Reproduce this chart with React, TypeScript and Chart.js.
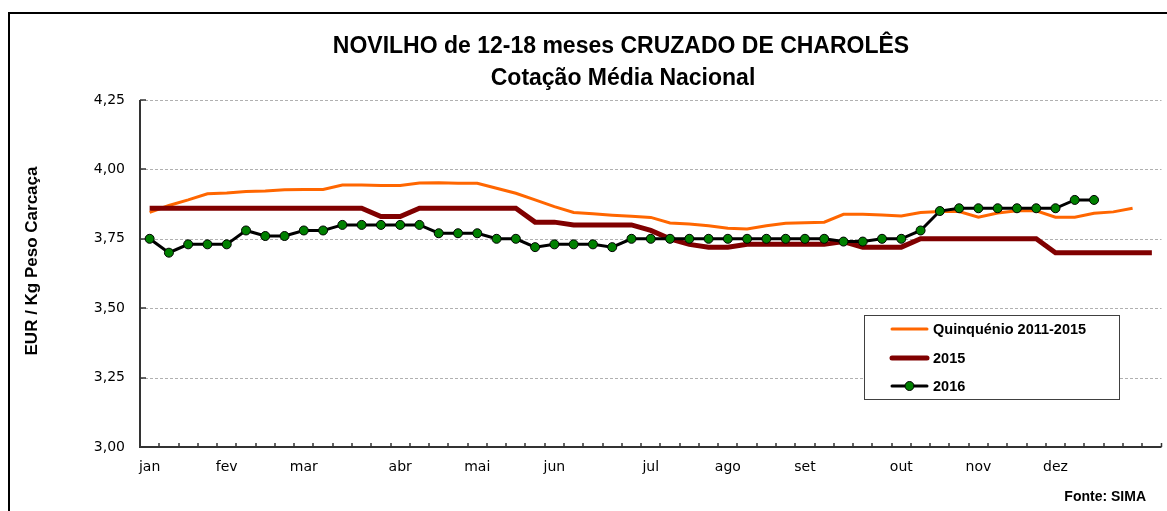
import React, { useEffect, useRef } from "react";
import { Chart, registerables } from "chart.js";

Chart.register(...registerables);

// ---- Data (weekly values, 53 weeks) ----
const MONTHS: string[] = ["jan", "fev", "mar", "abr", "mai", "jun", "jul", "ago", "set", "out", "nov", "dez"];
const MONTH_WEEK: number[] = [0, 4, 8, 13, 17, 21, 26, 30, 34, 39, 43, 47];
const WEEK_COUNT = 53;

const QUINQUENIO: number[] = [
  3.845, 3.87, 3.89, 3.912, 3.915, 3.92, 3.922, 3.927, 3.928, 3.928,
  3.944, 3.944, 3.942, 3.942, 3.951, 3.952, 3.95, 3.95, 3.932, 3.914,
  3.89, 3.866, 3.845, 3.84, 3.835, 3.831, 3.827, 3.807, 3.803, 3.797,
  3.788, 3.785, 3.797, 3.806, 3.808, 3.81, 3.838, 3.838, 3.836, 3.832,
  3.845, 3.848, 3.848, 3.828, 3.843, 3.851, 3.851, 3.828, 3.828, 3.842,
  3.847, 3.86,
];

const Y2015: number[] = [
  3.86, 3.86, 3.86, 3.86, 3.86, 3.86, 3.86, 3.86, 3.86, 3.86,
  3.86, 3.86, 3.83, 3.83, 3.86, 3.86, 3.86, 3.86, 3.86, 3.86,
  3.81, 3.81, 3.80, 3.80, 3.80, 3.80, 3.78, 3.75, 3.73, 3.72,
  3.72, 3.73, 3.73, 3.73, 3.73, 3.73, 3.74, 3.72, 3.72, 3.72,
  3.75, 3.75, 3.75, 3.75, 3.75, 3.75, 3.75, 3.70, 3.70, 3.70,
  3.70, 3.70, 3.70,
];

const Y2016: number[] = [
  3.75, 3.70, 3.73, 3.73, 3.73, 3.78, 3.76, 3.76, 3.78, 3.78,
  3.80, 3.80, 3.80, 3.80, 3.80, 3.77, 3.77, 3.77, 3.75, 3.75,
  3.72, 3.73, 3.73, 3.73, 3.72, 3.75, 3.75, 3.75, 3.75, 3.75,
  3.75, 3.75, 3.75, 3.75, 3.75, 3.75, 3.74, 3.74, 3.75, 3.75,
  3.78, 3.85, 3.86, 3.86, 3.86, 3.86, 3.86, 3.86, 3.89, 3.89,
];

const Y_MIN = 3.0;
const Y_MAX = 4.25;
const Y_STEP = 0.25;

const SERIES_NAMES: string[] = ["Quinquénio 2011-2015", "2015", "2016"];
const TITLE_LINES: string[] = ["NOVILHO de 12-18 meses CRUZADO DE CHAROLÊS", "Cotação Média Nacional"];
const Y_TITLE = "EUR / Kg Peso Carcaça";
const SOURCE = "Fonte: SIMA";

const COLORS = { quin: "#FF6600", y2015: "#800000", y2016: "#000000", marker: "#008000" };

const WEEK_LABELS: string[] = Array.from({ length: WEEK_COUNT }, (_, i) => {
  const k = MONTH_WEEK.indexOf(i);
  return k >= 0 ? MONTHS[k] : "";
});

const decor = {
  id: "decor",
  beforeDraw(chart: any) {
    const ctx = chart.ctx as CanvasRenderingContext2D;
    ctx.save();
    ctx.fillStyle = "#ffffff";
    ctx.fillRect(0, 0, chart.width, chart.height);
    // outer frame
    ctx.strokeStyle = "#000000";
    ctx.lineWidth = 2;
    ctx.strokeRect(9, 13, 1400, 700);
    // title
    ctx.fillStyle = "#000000";
    ctx.textAlign = "center";
    ctx.textBaseline = "alphabetic";
    ctx.font = "bold 23px 'Liberation Sans', Arial, sans-serif";
    ctx.fillText(TITLE_LINES[0], 621, 53);
    ctx.fillText(TITLE_LINES[1], 623, 85);
    // dashed grid lines
    const { left, right } = chart.chartArea;
    const ys = chart.scales.y;
    ctx.setLineDash([3, 2]);
    ctx.strokeStyle = "#b0b0b0";
    ctx.lineWidth = 1;
    for (let v = Y_MIN + Y_STEP; v <= Y_MAX + 1e-9; v += Y_STEP) {
      const py = Math.round(ys.getPixelForValue(v)) + 0.5;
      ctx.beginPath();
      ctx.moveTo(left, py);
      ctx.lineTo(right, py);
      ctx.stroke();
    }
    ctx.setLineDash([]);
    ctx.restore();
  },
  beforeDatasetsDraw(chart: any) {
    const ctx = chart.ctx as CanvasRenderingContext2D;
    const { left, right, top, bottom } = chart.chartArea;
    const xs = chart.scales.x;
    const ys = chart.scales.y;
    ctx.save();
    ctx.strokeStyle = "#333333";
    ctx.lineWidth = 2;
    ctx.beginPath();
    ctx.moveTo(left, top);
    ctx.lineTo(left, bottom);
    ctx.lineTo(right, bottom);
    ctx.stroke();
    // y inward ticks
    ctx.lineWidth = 1.5;
    for (let v = Y_MIN; v <= Y_MAX + 1e-9; v += Y_STEP) {
      const py = Math.round(ys.getPixelForValue(v));
      ctx.beginPath();
      ctx.moveTo(left, py);
      ctx.lineTo(left + 6, py);
      ctx.stroke();
    }
    // x inward ticks at category boundaries
    for (let i = 0; i < WEEK_COUNT; i++) {
      const p0 = xs.getPixelForValue(i);
      const p1 = i + 1 < WEEK_COUNT ? xs.getPixelForValue(i + 1) : right + (right - p0) * 0;
      const px = i + 1 < WEEK_COUNT ? Math.round((p0 + p1) / 2) : right;
      ctx.beginPath();
      ctx.moveTo(px, bottom);
      ctx.lineTo(px, bottom - 4);
      ctx.stroke();
    }
    ctx.restore();
  },
  afterDraw(chart: any) {
    const ctx = chart.ctx as CanvasRenderingContext2D;
    ctx.save();
    // y axis title
    ctx.fillStyle = "#000000";
    ctx.font = "bold 17px 'Liberation Sans', Arial, sans-serif";
    ctx.textAlign = "center";
    ctx.textBaseline = "alphabetic";
    ctx.translate(37, 261);
    ctx.rotate(-Math.PI / 2);
    ctx.fillText(Y_TITLE, 0, 0);
    ctx.restore();

    // legend
    ctx.save();
    ctx.fillStyle = "#ffffff";
    ctx.fillRect(864, 315, 255, 84);
    ctx.strokeStyle = "#404040";
    ctx.lineWidth = 1;
    ctx.strokeRect(864.5, 315.5, 255, 84);
    const rows = [329, 358, 386];
    const styles = [
      { c: COLORS.quin, w: 3 },
      { c: COLORS.y2015, w: 5 },
      { c: COLORS.y2016, w: 3 },
    ];
    ctx.lineCap = "round";
    rows.forEach((ry, k) => {
      ctx.strokeStyle = styles[k].c;
      ctx.lineWidth = styles[k].w;
      ctx.beginPath();
      ctx.moveTo(892, ry);
      ctx.lineTo(927, ry);
      ctx.stroke();
      if (k === 2) {
        ctx.beginPath();
        ctx.arc(909.5, ry, 4.5, 0, Math.PI * 2);
        ctx.fillStyle = COLORS.marker;
        ctx.fill();
        ctx.lineWidth = 1;
        ctx.strokeStyle = "#000";
        ctx.stroke();
      }
      ctx.fillStyle = "#000";
      ctx.font = "bold 14.5px 'Liberation Sans', Arial, sans-serif";
      ctx.textAlign = "left";
      ctx.textBaseline = "middle";
      ctx.fillText(SERIES_NAMES[k], 933, ry + 1);
    });
    // source
    ctx.font = "bold 14px 'Liberation Sans', Arial, sans-serif";
    ctx.textAlign = "right";
    ctx.textBaseline = "middle";
    ctx.fillText(SOURCE, 1146, 497);
    ctx.restore();
  },
};

export default function App() {
  const ref = useRef<HTMLCanvasElement>(null);
  useEffect(() => {
    if (!ref.current) return;
    const chart = new Chart(ref.current, {
      type: "line",
      data: {
        labels: WEEK_LABELS,
        datasets: [
          {
            label: SERIES_NAMES[0],
            data: QUINQUENIO,
            borderColor: COLORS.quin,
            borderWidth: 3,
            pointRadius: 0,
            tension: 0,
            order: 3,
          },
          {
            label: SERIES_NAMES[1],
            data: Y2015,
            borderColor: COLORS.y2015,
            borderWidth: 5,
            pointRadius: 0,
            tension: 0,
            order: 2,
          },
          {
            label: SERIES_NAMES[2],
            data: Y2016,
            borderColor: COLORS.y2016,
            borderWidth: 3,
            pointRadius: 4.5,
            pointBackgroundColor: COLORS.marker,
            pointBorderColor: "#000000",
            pointBorderWidth: 1,
            tension: 0,
            order: 1,
          },
        ],
      },
      options: {
        responsive: false,
        animation: false,
        devicePixelRatio: 1,
        events: [],
        layout: { padding: { left: 0, top: 100, right: 3, bottom: 0 } },
        plugins: { legend: { display: false }, title: { display: false }, tooltip: { enabled: false } },
        scales: {
          x: {
            type: "category",
            offset: true,
            grid: { display: false, drawTicks: false },
            border: { display: false },
            ticks: {
              autoSkip: false,
              maxRotation: 0,
              minRotation: 0,
              padding: 12,
              color: "#000000",
              font: { family: "'DejaVu Sans', sans-serif", size: 14 },
            },
            afterFit: (s: any) => {
              s.height = 64;
            },
          },
          y: {
            min: Y_MIN,
            max: Y_MAX,
            grid: { display: false, drawTicks: false },
            border: { display: false },
            ticks: {
              stepSize: Y_STEP,
              padding: 15,
              color: "#000000",
              font: { family: "'DejaVu Sans', sans-serif", size: 14 },
              callback: (v: any) => Number(v).toFixed(2).replace(".", ","),
            },
            afterFit: (s: any) => {
              s.width = 140;
            },
          },
        },
      },
      plugins: [decor],
    });
    return () => chart.destroy();
  }, []);
  return (
    <div style={{ position: "fixed", left: 0, top: 0, width: 1167, height: 511, background: "#fff" }}>
      <canvas ref={ref} width={1167} height={511} style={{ display: "block", width: 1167, height: 511 }} />
    </div>
  );
}
